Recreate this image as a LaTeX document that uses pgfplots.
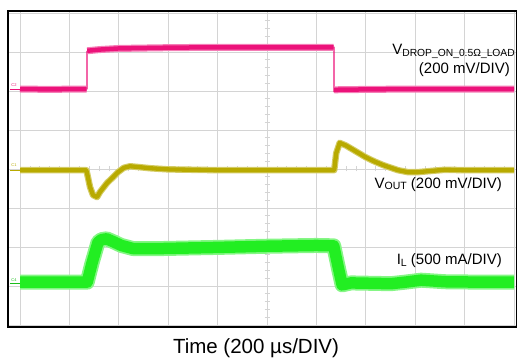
\documentclass[border=0pt]{standalone}
\usepackage{pgfplots}
\pgfplotsset{compat=1.18}
\usepackage{fontspec}
\setmainfont{Liberation Sans}
\definecolor{cpink}{RGB}{236,18,122}
\definecolor{colive}{RGB}{184,170,0}
\definecolor{cgreen}{RGB}{34,238,34}
\definecolor{cgrid}{RGB}{212,212,212}
\begin{document}
\begin{tikzpicture}
\useasboundingbox (0,0) rectangle (517pt,358pt);
% centre graticule ticks (decoration)
\foreach \i in {0,...,40} {\draw[cgrid, line width=0.7pt] (264.5pt, 33pt+\i*7.8pt) -- (270pt, 33pt+\i*7.8pt);}
\foreach \i in {0,...,50} {\draw[cgrid, line width=0.7pt] (20pt+\i*9.88pt, 186.5pt) -- (20pt+\i*9.88pt, 192pt);}
\begin{axis}[
 at={(8pt,31pt)}, anchor=south west,
 scale only axis, width=509pt, height=316pt,
 xmin=-0.243, xmax=10.06, ymin=-0.05, ymax=8.05,
 xtick={0,...,10}, ytick={0,...,8},
 xticklabels={}, yticklabels={},
 major tick length=0pt,
 grid=major, major grid style={cgrid, line width=0.8pt},
 axis line style={black, line width=1.6pt},
 every axis plot/.append style={line join=round, line cap=butt},
]
% green I_L
\addplot[cgreen!55, line width=15pt] coordinates {
(0,1.10) (1.0,1.10) (1.36,1.10) (1.46,1.60) (1.579,2.12) (1.65,2.19) (1.755,2.21) (1.9,2.13) (2.05,2.04) (2.29,1.96) (2.83,1.96) (4,1.99) (5,2.02) (6.0,2.04) (6.35,2.03) (6.44,1.49) (6.52,1.03) (6.70,1.08) (7.51,1.06) (7.8,1.10) (8.12,1.15) (8.6,1.11) (9.3,1.10) (10.0,1.10)};
\addplot[cgreen, line width=11.5pt] coordinates {
(0,1.10) (1.0,1.10) (1.36,1.10) (1.46,1.60) (1.579,2.12) (1.65,2.19) (1.755,2.21) (1.9,2.13) (2.05,2.04) (2.29,1.96) (2.83,1.96) (4,1.99) (5,2.02) (6.0,2.04) (6.35,2.03) (6.44,1.49) (6.52,1.03) (6.70,1.08) (7.51,1.06) (7.8,1.10) (8.12,1.15) (8.6,1.11) (9.3,1.10) (10.0,1.10)};
% olive V_OUT
\addplot[colive!60, line width=6.5pt] coordinates {
(0,3.97) (1.0,3.97) (1.34,3.97) (1.356,3.90) (1.417,3.54) (1.478,3.33) (1.559,3.28) (1.619,3.41) (1.761,3.64) (1.883,3.79) (1.984,3.92) (2.1,4.03) (2.227,4.07) (2.4,4.05) (2.63,4.02) (3.0,3.99) (4,3.97) (5,3.97) (6.0,3.97) (6.36,3.97) (6.40,4.40) (6.47,4.67) (6.6,4.60) (6.84,4.42) (7.0,4.30) (7.18,4.19) (7.35,4.10) (7.51,4.03) (7.65,3.97) (7.85,3.92) (8.06,3.92) (8.32,3.95) (8.6,3.98) (9,3.97) (10.0,3.97)};
\addplot[colive, line width=4.3pt] coordinates {
(0,3.97) (1.0,3.97) (1.34,3.97) (1.356,3.90) (1.417,3.54) (1.478,3.33) (1.559,3.28) (1.619,3.41) (1.761,3.64) (1.883,3.79) (1.984,3.92) (2.1,4.03) (2.227,4.07) (2.4,4.05) (2.63,4.02) (3.0,3.99) (4,3.97) (5,3.97) (6.0,3.97) (6.36,3.97) (6.40,4.40) (6.47,4.67) (6.6,4.60) (6.84,4.42) (7.0,4.30) (7.18,4.19) (7.35,4.10) (7.51,4.03) (7.65,3.97) (7.85,3.92) (8.06,3.92) (8.32,3.95) (8.6,3.98) (9,3.97) (10.0,3.97)};
% pink V_DROP: thin edges, thick levels
\addplot[cpink, line width=1.3pt] coordinates {
(0,6.05) (1.356,6.05) (1.356,7.02) (6.356,7.12) (6.356,5.98) (6.42,6.03) (10.0,6.05)};
\addplot[cpink!55, line width=7pt] coordinates {(0,6.05) (0.6,6.04) (1.2,6.05) (1.35,6.05)};
\addplot[cpink, line width=4.5pt] coordinates {(0,6.05) (0.6,6.04) (1.2,6.05) (1.35,6.05)};
\addplot[cpink!55, line width=7pt] coordinates {(1.36,7.03) (1.6,7.06) (2.0,7.09) (3.0,7.11) (4.0,7.12) (5.0,7.12) (6.0,7.12) (6.35,7.12)};
\addplot[cpink, line width=4.5pt] coordinates {(1.36,7.03) (1.6,7.06) (2.0,7.09) (3.0,7.11) (4.0,7.12) (5.0,7.12) (6.0,7.12) (6.35,7.12)};
\addplot[cpink!55, line width=7pt] coordinates {(6.36,6.03) (7,6.04) (8,6.05) (9,6.05) (10.0,6.05)};
\addplot[cpink, line width=4.5pt] coordinates {(6.36,6.03) (7,6.04) (8,6.05) (9,6.05) (10.0,6.05)};
\end{axis}
% channel markers
\node[cpink, font=\fontsize{4}{4}\selectfont, inner sep=0pt] at (14pt,273pt) {C2};
\draw[cpink, line width=0.6pt] (10pt,269pt) -- (20pt,269pt);
\node[colive, font=\fontsize{4}{4}\selectfont, inner sep=0pt] at (14pt,193pt) {C1};
\draw[colive, line width=0.6pt] (10pt,188pt) -- (20pt,188pt);
\node[cgreen!80!black, font=\fontsize{4}{4}\selectfont, inner sep=0pt] at (14pt,78pt) {C4};
\draw[cgreen!80!black, line width=0.6pt] (10pt,75pt) -- (20pt,75pt);
% labels
\node[anchor=base east, inner sep=0pt, font=\fontsize{15}{16}\selectfont] at (515pt,303pt)
 {V\raisebox{-1.5pt}{\fontsize{10.3}{11}\selectfont DROP\_ON\_0.5Ω\_LOAD}};
\node[anchor=base east, inner sep=0pt, font=\fontsize{15}{16}\selectfont] at (510pt,284pt) {(200 mV/DIV)};
\node[anchor=base east, inner sep=0pt, font=\fontsize{15}{16}\selectfont] at (502pt,169.7pt)
 {V\raisebox{-1.5pt}{\fontsize{10.5}{11}\selectfont OUT} (200 mV/DIV)};
\node[anchor=base east, inner sep=0pt, font=\fontsize{15}{16}\selectfont] at (502pt,93pt)
 {I\raisebox{-1.5pt}{\fontsize{10.5}{11}\selectfont L} (500 mA/DIV)};
\node[anchor=base, inner sep=0pt, font=\fontsize{20.5}{22}\selectfont] at (256pt,4pt) {Time (200 µs/DIV)};
\end{tikzpicture}
\end{document}
